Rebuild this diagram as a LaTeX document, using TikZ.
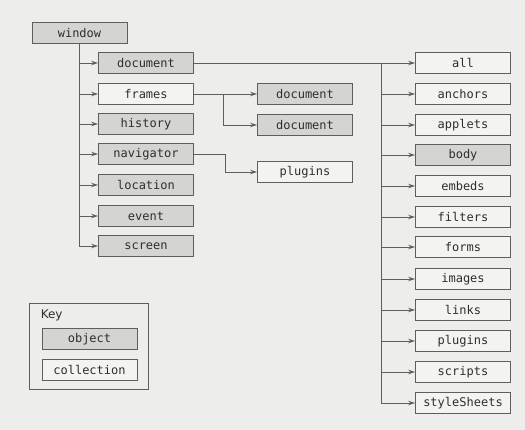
\documentclass[tikz,border=0pt]{standalone}
\usepackage{fontspec}
\usetikzlibrary{arrows.meta}
\setmonofont{DejaVu Sans Mono}
\setsansfont{DejaVu Sans}
\definecolor{pagebg}{HTML}{EDEDEB}
\definecolor{objfill}{HTML}{D4D4D2}
\definecolor{collfill}{HTML}{F3F3F1}
\definecolor{edge}{HTML}{5E5E5E}
\definecolor{ink}{HTML}{2E2E2E}
\tikzset{
  box/.style={draw=edge, line width=0.9pt, minimum width=95pt, minimum height=21pt,
    inner sep=0pt, text=ink, font=\ttfamily\fontsize{12}{13}\selectfont},
  obj/.style={box, fill=objfill},
  coll/.style={box, fill=collfill},
  wire/.style={draw=edge, line width=0.9pt},
  >={Stealth[length=7pt,width=4.5pt]}
}
\begin{document}
\begin{tikzpicture}[x=1pt,y=-1pt]
  \fill[pagebg] (0,0) rectangle (525,430);
  \useasboundingbox (0,0) rectangle (525,430);
  % window and its properties
  \node[obj] (window) at (79.5,33) {window};
  \node[obj] (document) at (146,63) {document};
  \node[coll] (frames) at (146,94) {frames};
  \node[obj] (history) at (146,124) {history};
  \node[obj] (navigator) at (146,154) {navigator};
  \node[obj] (location) at (146,185) {location};
  \node[obj] (event) at (146,216) {event};
  \node[obj] (screen) at (146,246) {screen};
  % frames and navigator
  \node[obj] (fdoc1) at (305,94) {document};
  \node[obj] (fdoc2) at (305,125) {document};
  \node[coll] (nplugins) at (305,172) {plugins};
  % document collections
  \node[coll] (all) at (463,63) {all};
  \node[coll] (anchors) at (463,94) {anchors};
  \node[coll] (applets) at (463,125) {applets};
  \node[obj] (body) at (463,155) {body};
  \node[coll] (embeds) at (463,186) {embeds};
  \node[coll] (filters) at (463,217) {filters};
  \node[coll] (forms) at (463,247) {forms};
  \node[coll] (images) at (463,279) {images};
  \node[coll] (links) at (463,310) {links};
  \node[coll] (plugins) at (463,341) {plugins};
  \node[coll] (scripts) at (463,372) {scripts};
  \node[coll] (styleSheets) at (463,403) {styleSheets};
  % key
  \node[draw=edge, line width=0.9pt, minimum width=119pt, minimum height=86pt, inner sep=0pt] (key) at (88.5,346) {};
  \node[anchor=north west, inner sep=0pt, text=ink, font=\sffamily\fontsize{12}{13}\selectfont] (keytitle) at ([xshift=12pt,yshift=-7pt]key.north west) {Key};
  \node[obj] (keyobj) at (89.5,339) {object};
  \node[coll] (keycoll) at (89.5,369.5) {collection};
  \coordinate (rtrunk) at (381,63);
  \coordinate (ftap) at (223,94);
  \coordinate (ntap) at (225,154);
  \begin{scope}[wire,->]
    \draw (window.south) |- (screen.west);
    \draw (window.south |- document) -- (document.west);
    \draw (window.south |- frames) -- (frames.west);
    \draw (window.south |- history) -- (history.west);
    \draw (window.south |- navigator) -- (navigator.west);
    \draw (window.south |- location) -- (location.west);
    \draw (window.south |- event) -- (event.west);
    \draw (frames.east) -- (fdoc1.west);
    \draw (ftap) |- (fdoc2.west);
    \draw (navigator.east) -- (ntap) |- (nplugins.west);
    \draw (document.east) -- (all.west);
    \draw (rtrunk) |- (styleSheets.west);
    \draw (rtrunk |- anchors) -- (anchors.west);
    \draw (rtrunk |- applets) -- (applets.west);
    \draw (rtrunk |- body) -- (body.west);
    \draw (rtrunk |- embeds) -- (embeds.west);
    \draw (rtrunk |- filters) -- (filters.west);
    \draw (rtrunk |- forms) -- (forms.west);
    \draw (rtrunk |- images) -- (images.west);
    \draw (rtrunk |- links) -- (links.west);
    \draw (rtrunk |- plugins) -- (plugins.west);
    \draw (rtrunk |- scripts) -- (scripts.west);
  \end{scope}
\end{tikzpicture}
\end{document}
